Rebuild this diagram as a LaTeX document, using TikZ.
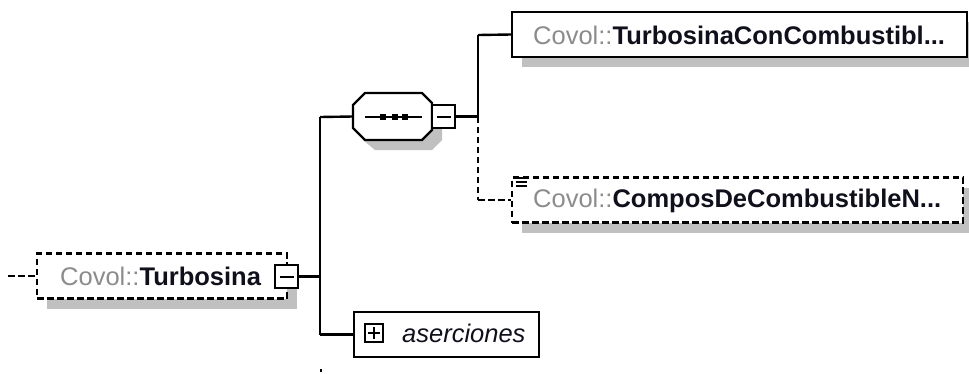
\documentclass[tikz,border=0pt]{standalone}
\usepackage{fontspec}
\setmainfont{Liberation Sans}
\usetikzlibrary{shadows}
\definecolor{shadowgray}{HTML}{C0C0C0}
\definecolor{nsgray}{HTML}{8C8C8C}
\definecolor{txtdark}{HTML}{10101C}
\begin{document}
\begin{tikzpicture}[x=1pt,y=-1pt,
  lw/.style={line width=2.4pt},
  dashpat/.style={dash pattern=on 6.5pt off 3.5pt},
  shad/.style={drop shadow={shadow xshift=10pt,shadow yshift=-10pt,fill=shadowgray,opacity=1}},
  elembox/.style={draw,lw,fill=white,rectangle,inner sep=0pt,minimum height=45pt},
  optbox/.style={elembox,dashpat},
  togglebox/.style={draw,lw,fill=white,rectangle,inner sep=0pt,minimum width=23pt,minimum height=23pt},
  plusbox/.style={draw,line width=1.8pt,fill=white,rectangle,inner sep=0pt,minimum width=18pt,minimum height=18pt},
  lbl/.style={anchor=base west,inner sep=0pt,font=\fontsize{25.5}{29}\selectfont,text=txtdark},
  conn/.style={lw},
  optconn/.style={lw,dashpat}
]
\useasboundingbox (0,0) rectangle (969,373);

% root element
\node[optbox,shad,minimum width=250pt] (root) at (162,276) {};
\node[lbl] (rootlbl) at (60,285) {\textcolor{nsgray}{Covol::}\textbf{Turbosina}};
\node[togglebox] (rootmin) at (286.5,276.5) {};
\draw[line width=2pt] ([xshift=-7pt]rootmin.center) -- ([xshift=7pt]rootmin.center);
\coordinate (rootin) at (8,276);
\draw[optconn] (rootin) -- (root.west);

% trunk
\coordinate (trunktop) at (320,117);
\coordinate (trunkmid) at (320,276.5);
\coordinate (trunkbot) at (320,334.5);
\draw[conn] (rootmin.east) -- (trunkmid);
\draw[conn] (trunktop) -- (trunkbot);

% sequence compositor (octagon)
\fill[shadowgray] (363,115) -- (375,103) -- (432,103) -- (442,113) -- (442,140) -- (432,150) -- (375,150) -- (363,140) -- cycle;
\node[rectangle,inner sep=0pt,minimum width=79pt,minimum height=47pt] (seq) at (392.5,116.5) {};
\draw[lw,fill=white] (353,105) -- (365,93) -- (422,93) -- (432,103) -- (432,130) -- (422,140) -- (365,140) -- (353,128) -- cycle;
\draw[conn] (trunktop) -- (seq.west);
\draw[line width=1.8pt] (365,117) -- (422,117);
\foreach \sx in {382.5,394.5,405}
  \fill (\sx-3,114) rectangle (\sx+3,120);
\node[togglebox] (seqmin) at (443.5,116.5) {};
\draw[line width=2pt] ([xshift=-7pt]seqmin.center) -- ([xshift=7pt]seqmin.center);

% branch
\coordinate (brmid) at (478,116.5);
\coordinate (brtop) at (478,35);
\coordinate (brbot) at (478,200);
\draw[conn] (seqmin.east) -- (brmid);
\draw[conn] (brmid) -- (brtop);
\draw[optconn] (brmid) -- (brbot);

% child 1
\node[elembox,shad,minimum width=455pt] (c1) at (739.5,34.5) {};
\node[lbl] (c1lbl) at (533,44) {\textcolor{nsgray}{Covol::}\textbf{TurbosinaConCombustibl...}};
\draw[conn] (brtop) -- (c1.west);

% child 2
\node[optbox,shad,minimum width=451pt] (c2) at (737.5,200) {};
\node[lbl] (c2lbl) at (533,207) {\textcolor{nsgray}{Covol::}\textbf{ComposDeCombustibleN...}};
\draw[optconn] (brbot) -- (c2.west);
\foreach \iy in {178,182,186}
  \draw[line width=1.4pt] (516,\iy) -- (527,\iy);

% aserciones
\node[elembox,minimum width=185pt] (ase) at (446.5,334.5) {};
\node[lbl] (aselbl) at (402,342) {\textit{aserciones}};
\node[plusbox] (aseplus) at (374,333) {};
\draw[line width=1.8pt] ([xshift=-6pt]aseplus.center) -- ([xshift=6pt]aseplus.center);
\draw[line width=1.8pt] ([yshift=-6pt]aseplus.center) -- ([yshift=6pt]aseplus.center);
\draw[conn] (trunkbot) -- (ase.west);

% tiny mark
\fill (319.5,369) rectangle (321.5,372);
\end{tikzpicture}
\end{document}
